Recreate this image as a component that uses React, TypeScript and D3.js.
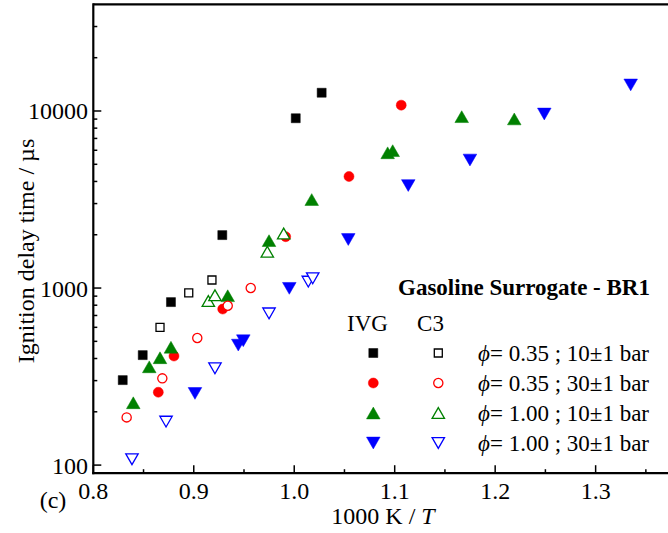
import React from "react";
import * as d3 from "d3";

const W = 668;
const H = 533;

// 1000 K / T values and ignition delay times (µs)
const ivg035_10x = [0.8293, 0.8492, 0.8773, 0.9284, 1.0015, 1.0273];
const ivg035_10y = [302, 418, 833, 1991, 9100, 12680];
const c3035_10x = [0.8664, 0.895, 0.9181];
const c3035_10y = [600, 940, 1110];

const ivg035_30x = [0.8647, 0.8803, 0.9288, 0.9915, 1.0545, 1.1065];
const ivg035_30y = [258, 413, 761, 1950, 4266, 10790];
const c3035_30x = [0.8332, 0.8687, 0.9035, 0.9338, 0.9567];
const c3035_30y = [186, 309, 522, 794, 1000];

const ivg100_10x = [0.8398, 0.8557, 0.8664, 0.8773, 0.9338, 0.9749, 1.0174, 1.093, 1.098, 1.1667, 1.219];
const ivg100_10y = [225, 359, 404, 463, 905, 1853, 3162, 5808, 5970, 9290, 9020];
const c3100_10x = [0.9145, 0.9211, 0.9732, 0.9895];
const c3100_10y = [845, 910, 1603, 2032];

const ivg100_30x = [0.9012, 0.9443, 0.9493, 0.9951, 1.0538, 1.1135, 1.1749, 1.2489, 1.3349];
const ivg100_30y = [254, 476, 504, 996, 1880, 3793, 5285, 9614, 14030];
const c3100_30x = [0.8385, 0.8724, 0.9211, 0.9749, 1.014, 1.0184];
const c3100_30y = [108, 176, 352, 719, 1087, 1135];

const xMajor = [0.8, 0.9, 1.0, 1.1, 1.2, 1.3];
const xLabels = ["0.8", "0.9", "1.0", "1.1", "1.2", "1.3"];
const xMinor = [0.85, 0.95, 1.05, 1.15, 1.25, 1.35];
const yMajor = [100, 1000, 10000];
const yLabels = ["100", "1000", "10000"];
const yMinor = [200, 300, 400, 500, 600, 700, 800, 900, 2000, 3000, 4000, 5000, 6000, 7000, 8000, 9000, 20000, 30000];

const legendLabels = ["= 0.35 ; 10±1 bar", "= 0.35 ; 30±1 bar", "= 1.00 ; 10±1 bar", "= 1.00 ; 30±1 bar"];

const FONT = "'Liberation Serif', 'Times New Roman', serif";

type Shape = "square" | "circle" | "up" | "down";

function markerPath(shape: Shape, open: boolean): string {
  if (shape === "square") {
    const h = open ? 4 : 4.5;
    return `M${-h},${-h}H${h}V${h}H${-h}Z`;
  }
  if (shape === "circle") {
    const r = open ? 4.6 : 5;
    return `M${r},0A${r},${r} 0 1,1 ${-r},0A${r},${r} 0 1,1 ${r},0Z`;
  }
  const hw = open ? 6.2 : 6.8;
  const hh = open ? 5.4 : 5.9;
  if (shape === "up") return `M0,${-hh}L${hw},${hh}L${-hw},${hh}Z`;
  return `M0,${hh}L${hw},${-hh}L${-hw},${-hh}Z`;
}

const x = d3.scaleLinear().domain([0.8, 1.4]).range([93.3, 696.1]);
const y = d3.scaleLog().domain([90, 40000]).range([473.2, 4.4]);

interface Series {
  xs: number[];
  ys: number[];
  color: string;
  shape: Shape;
  open: boolean;
}

const filledSeries: Series[] = [
  { xs: ivg035_10x, ys: ivg035_10y, color: "#000000", shape: "square", open: false },
  { xs: ivg035_30x, ys: ivg035_30y, color: "#ff0000", shape: "circle", open: false },
  { xs: ivg100_10x, ys: ivg100_10y, color: "#008000", shape: "up", open: false },
  { xs: ivg100_30x, ys: ivg100_30y, color: "#0000ff", shape: "down", open: false },
];
const openSeries: Series[] = [
  { xs: c3035_10x, ys: c3035_10y, color: "#000000", shape: "square", open: true },
  { xs: c3035_30x, ys: c3035_30y, color: "#ff0000", shape: "circle", open: true },
  { xs: c3100_10x, ys: c3100_10y, color: "#008000", shape: "up", open: true },
  { xs: c3100_30x, ys: c3100_30y, color: "#0000ff", shape: "down", open: true },
];

function Marker({ cx, cy, s }: { cx: number; cy: number; s: Series }) {
  return (
    <path
      d={markerPath(s.shape, s.open)}
      transform={`translate(${cx},${cy})`}
      fill={s.open ? "#ffffff" : s.color}
      stroke={s.color}
      strokeWidth={s.open ? 1.3 : 0.5}
    />
  );
}

export default function App() {
  const left = x(0.8);
  const bottom = y(90);
  const top = y(40000);
  const legendRowY = [353, 383, 413, 443];
  return (
    <svg
      width={W}
      height={H}
      style={{ position: "absolute", left: 0, top: 0, display: "block", background: "#fff" }}
      fontFamily={FONT}
    >
      <rect x={0} y={0} width={W} height={H} fill="#fff" />
      {/* axes frame */}
      <line x1={left} y1={top} x2={W} y2={top} stroke="#000" strokeWidth={2.2} />
      <line x1={left} y1={top - 1.1} x2={left} y2={bottom + 1.1} stroke="#000" strokeWidth={2.2} />
      <line x1={left - 1.1} y1={bottom} x2={W} y2={bottom} stroke="#000" strokeWidth={2.2} />

      {/* x ticks */}
      {xMajor.map((v, i) => (
        <g key={"xm" + i}>
          <line x1={x(v)} x2={x(v)} y1={bottom} y2={bottom - 8} stroke="#000" strokeWidth={1.5} />
          <text x={x(v)} y={499} fontSize={24} textAnchor="middle">
            {xLabels[i]}
          </text>
        </g>
      ))}
      {xMinor.map((v, i) => (
        <line key={"xn" + i} x1={x(v)} x2={x(v)} y1={bottom} y2={bottom - 4} stroke="#000" strokeWidth={1.5} />
      ))}

      {/* y ticks */}
      {yMajor.map((v, i) => (
        <g key={"ym" + i}>
          <line x1={left} x2={left + 8} y1={y(v)} y2={y(v)} stroke="#000" strokeWidth={1.5} />
          <text x={88} y={y(v) + 8.5} fontSize={24} textAnchor="end">
            {yLabels[i]}
          </text>
        </g>
      ))}
      {yMinor.map((v, i) => (
        <line key={"yn" + i} x1={left} x2={left + 4} y1={y(v)} y2={y(v)} stroke="#000" strokeWidth={1.5} />
      ))}

      {/* axis titles */}
      <text x={383} y={524} fontSize={24} textAnchor="middle">
        1000 K / <tspan fontStyle="italic">T</tspan>
      </text>
      <text x={53} y={508} fontSize={24} textAnchor="middle">
        (c)
      </text>
      <text transform="translate(34,251) rotate(-90)" fontSize={24} textAnchor="middle">
        Ignition delay time / µs
      </text>

      {/* data */}
      {filledSeries.map((s, si) =>
        s.xs.map((v, i) => <Marker key={`f${si}-${i}`} cx={x(v)} cy={y(s.ys[i])} s={s} />)
      )}
      {openSeries.map((s, si) =>
        s.xs.map((v, i) => <Marker key={`o${si}-${i}`} cx={x(v)} cy={y(s.ys[i])} s={s} />)
      )}

      {/* legend */}
      <text x={524} y={295} fontSize={23} fontWeight="bold" textAnchor="middle">
        Gasoline Surrogate - BR1
      </text>
      <text x={367.5} y={331} fontSize={23} textAnchor="middle">
        IVG
      </text>
      <text x={430.5} y={331} fontSize={23} textAnchor="middle">
        C3
      </text>
      {legendRowY.map((ry, i) => (
        <g key={"lg" + i}>
          <Marker cx={373.3} cy={ry} s={filledSeries[i]} />
          <Marker cx={438.3} cy={ry} s={openSeries[i]} />
          <text x={478} y={ry + 8} fontSize={23}>
            <tspan fontStyle="italic">ϕ</tspan>
            {legendLabels[i]}
          </text>
        </g>
      ))}
    </svg>
  );
}
